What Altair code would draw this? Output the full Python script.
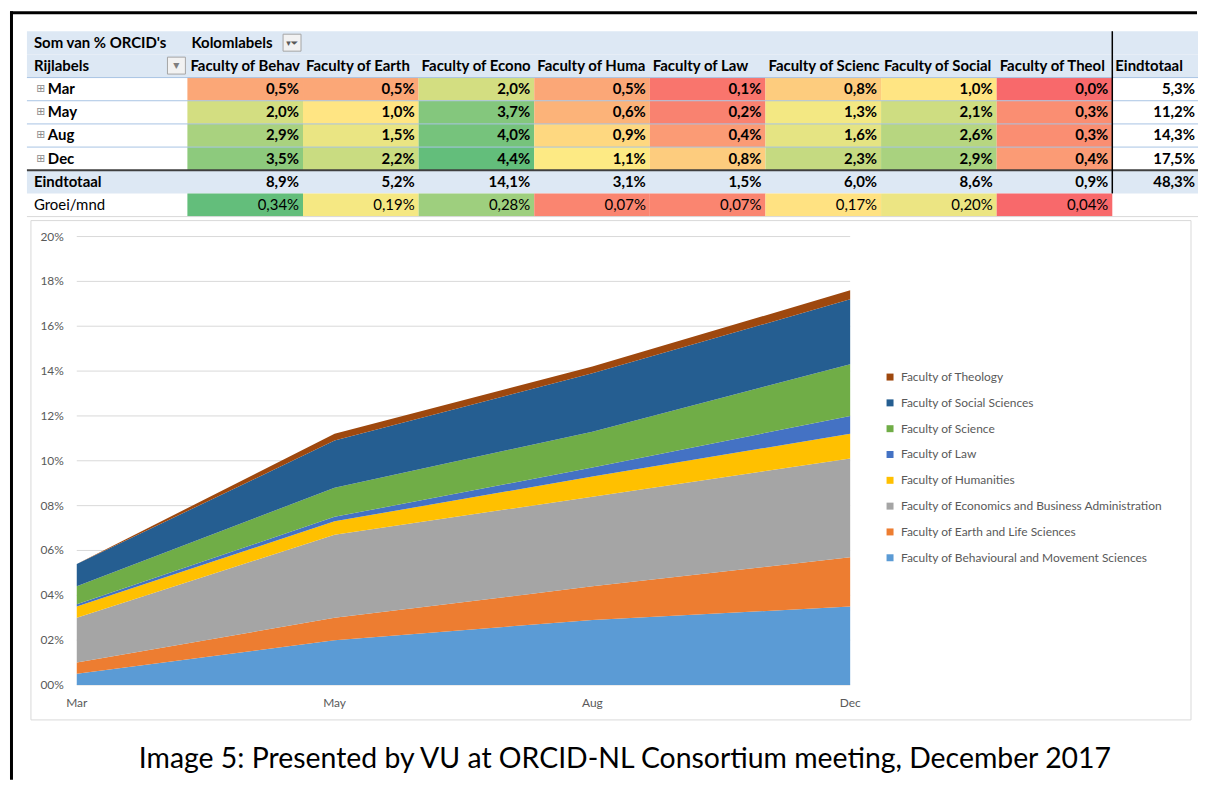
import altair as alt
import numpy as np
import pandas as pd

# ---------------- data ----------------
faculties = [
    "Faculty of Behavioural and Movement Sciences",
    "Faculty of Earth and Life Sciences",
    "Faculty of Economics and Business Administration",
    "Faculty of Humanities",
    "Faculty of Law",
    "Faculty of Science",
    "Faculty of Social Sciences",
    "Faculty of Theology",
]
months = ["Mar", "May", "Aug", "Dec"]
pct_mar = [0.5, 0.5, 2.0, 0.5, 0.1, 0.8, 1.0, 0.0]
pct_may = [2.0, 1.0, 3.7, 0.6, 0.2, 1.3, 2.1, 0.3]
pct_aug = [2.9, 1.5, 4.0, 0.9, 0.4, 1.6, 2.6, 0.3]
pct_dec = [3.5, 2.2, 4.4, 1.1, 0.8, 2.3, 2.9, 0.4]
month_totals = [5.3, 11.2, 14.3, 17.5]
faculty_totals = [8.9, 5.2, 14.1, 3.1, 1.5, 6.0, 8.6, 0.9]
grand_total = 48.3
growth_per_month = [0.34, 0.19, 0.28, 0.07, 0.07, 0.17, 0.20, 0.04]
y_ticks = [0, 2, 4, 6, 8, 10, 12, 14, 16, 18, 20]
y_tick_labels = ["00%", "02%", "04%", "06%", "08%", "10%", "12%", "14%", "16%", "18%", "20%"]
area_colors = ["#5B9BD5", "#ED7D31", "#A5A5A5", "#FFC000", "#4472C4", "#70AD47", "#255E91", "#9E480E"]
row_keys = ["Som van % ORCID's", "Rijlabels"] + months + ["Eindtotaal", "Groei/mnd"]
total_col = "Eindtotaal"
caption = "Image 5: Presented by VU at ORCID-NL Consortium meeting, December 2017"

# ---------------- layout (px) ----------------
W, H = 1191, 771
TABLE_H = 206
T_TOP = 20
T_LEFT, LAB_END, COL_W, T_RIGHT = 17, 178, 116, 1192
ROW_H = (TABLE_H - T_TOP) / len(row_keys)
B_H = H - TABLE_H
PLOT_X = [67, 843]
PLOT_Y = [676 - TABLE_H, 226 - TABLE_H]
FONT = "Lato"
FS = 15

series = [pct_mar, pct_may, pct_aug, pct_dec]
cols = faculties + [total_col]
cells = pd.DataFrame([{"fac": f, "row": m, "v": v}
                      for m, arr in zip(months, series) for f, v in zip(faculties, arr)])
coltot = pd.DataFrame({"fac": faculties, "row": "Eindtotaal", "v": faculty_totals})
grow = pd.DataFrame({"fac": faculties, "row": "Groei/mnd", "g": growth_per_month})
rowtot = pd.DataFrame({"fac": total_col, "row": months + ["Eindtotaal"],
                       "v": month_totals + [grand_total]})
hdr = pd.DataFrame({"fac": cols, "row": "Rijlabels"})

allv = np.array(series).ravel()
heat_scale = alt.Scale(domain=[float(allv.min()), float(np.median(allv)), float(allv.max())],
                       range=["#F8696B", "#FFEB84", "#63BE7B"], interpolate="rgb")
g = np.array(growth_per_month)
grow_scale = alt.Scale(domain=[float(g.min()), float(np.median(g)), float(g.max())],
                       range=["#F8696B", "#FFEB84", "#63BE7B"], interpolate="rgb")

Y_ROWS = alt.Scale(type="band", domain=row_keys, range=[T_TOP, TABLE_H],
                   paddingInner=0, paddingOuter=0)
X_COL = alt.Scale(type="band", domain=cols, range=[LAB_END, LAB_END + COL_W * len(cols)],
                  paddingInner=0, paddingOuter=0)

fmt1 = "replace(format(datum.v, '.1f'), '.', ',') + '%'"
fmt2 = "replace(format(datum.g, '.2f'), '.', ',') + '%'"


def yrow(**kw):
    return alt.Y("row:N", scale=Y_ROWS, axis=None, **kw)


def xcol(**kw):
    return alt.X("fac:N", scale=X_COL, axis=None, **kw)


txt = dict(baseline="middle", fontSize=FS, color="black", font=FONT)
one = pd.DataFrame({"k": [0]})
blue_rows = pd.DataFrame({"row": [row_keys[0], row_keys[1], "Eindtotaal"]})

# ---------------- table: backgrounds & rules ----------------
bg = alt.Chart(blue_rows).mark_rect(color="#DDE8F4").encode(
    x=alt.value(T_LEFT), x2=alt.value(T_RIGHT), y=yrow())
sep_light = alt.Chart(pd.DataFrame({"row": months})).mark_rule(color="#A9C4E4", strokeWidth=1).encode(
    x=alt.value(T_LEFT), x2=alt.value(T_RIGHT), y=yrow(bandPosition=0))
sep_dark = alt.Chart(pd.DataFrame({"row": ["Eindtotaal"]})).mark_rule(color="#3F3F3F", strokeWidth=2).encode(
    x=alt.value(T_LEFT), x2=alt.value(T_RIGHT), y=yrow(bandPosition=0))
sep_bottom = alt.Chart(pd.DataFrame({"row": ["Groei/mnd"]})).mark_rule(color="#D9D9D9", strokeWidth=1).encode(
    x=alt.value(T_LEFT), x2=alt.value(T_RIGHT), y=yrow(bandPosition=1))
vline = alt.Chart(pd.DataFrame({"fac": [total_col]})).mark_rule(color="black", strokeWidth=1.5).encode(
    x=xcol(bandPosition=0), y=alt.value(T_TOP), y2=alt.value(T_TOP + ROW_H * 7))

# ---------------- table: row labels ----------------
rl_bold = alt.Chart(blue_rows).mark_text(align="left", fontWeight="bold", **txt).encode(
    x=alt.value(24), y=yrow(), text="row:N")
rl_months = alt.Chart(pd.DataFrame({"row": months})).mark_text(
    align="left", fontWeight="bold", **txt).encode(x=alt.value(38), y=yrow(), text="row:N")
rl_icons = alt.Chart(pd.DataFrame({"row": months})).mark_text(
    align="center", baseline="middle", fontSize=11, color="#8C8C8C", font="DejaVu Sans").encode(
    x=alt.value(31), y=yrow(), text=alt.value("⊞"))
rl_growth = alt.Chart(pd.DataFrame({"row": ["Groei/mnd"]})).mark_text(
    align="left", fontWeight="normal", **txt).encode(x=alt.value(24), y=yrow(), text="row:N")
drop_box = alt.Chart(one).mark_rect(fill="#F2F2F2", stroke="#A6A6A6", strokeWidth=1).encode(
    x=alt.value(158), x2=alt.value(176), y=alt.value(46), y2=alt.value(63))
drop_glyph = alt.Chart(one).mark_text(fontSize=8, color="#7F7F7F", font="DejaVu Sans").encode(
    x=alt.value(167), y=alt.value(55), text=alt.value("▼"))
filt_box = alt.Chart(one).mark_rect(fill="#F2F2F2", stroke="#A6A6A6", strokeWidth=1).encode(
    x=alt.value(274), x2=alt.value(292), y=alt.value(23), y2=alt.value(40))
filt_glyph = alt.Chart(one).mark_text(fontSize=9, color="#595959", font="DejaVu Sans").encode(
    x=alt.value(283), y=alt.value(32), text=alt.value("▾⏷"))

# ---------------- table: value cells ----------------
heat = alt.Chart(cells).mark_rect().encode(
    x=xcol(), y=yrow(), color=alt.Color("v:Q", scale=heat_scale, legend=None))
heat_g = alt.Chart(grow).mark_rect().encode(
    x=xcol(), y=yrow(), color=alt.Color("g:Q", scale=grow_scale, legend=None))
hdr_text = alt.Chart(hdr).mark_text(align="left", fontWeight="bold", limit=113, ellipsis="\u200b",
                                    dx=3, **txt).encode(x=xcol(bandPosition=0), y=yrow(), text="fac:N")
kol_text = alt.Chart(pd.DataFrame({"fac": [faculties[0]], "row": [row_keys[0]], "t": ["Kolomlabels"]})).mark_text(
    align="left", fontWeight="bold", dx=4, **txt).encode(x=xcol(bandPosition=0), y=yrow(), text="t:N")
val_text = alt.Chart(cells).transform_calculate(lab=fmt1).mark_text(
    align="right", fontWeight="bold", dx=-4, **txt).encode(x=xcol(bandPosition=1), y=yrow(), text="lab:N")
ct_text = alt.Chart(coltot).transform_calculate(lab=fmt1).mark_text(
    align="right", fontWeight="bold", dx=-4, **txt).encode(x=xcol(bandPosition=1), y=yrow(), text="lab:N")
g_text = alt.Chart(grow).transform_calculate(lab=fmt2).mark_text(
    align="right", fontWeight="normal", dx=-4, **txt).encode(x=xcol(bandPosition=1), y=yrow(), text="lab:N")
# the total column is narrower than a faculty column: anchor at its left edge
tot_text = alt.Chart(rowtot).transform_calculate(lab=fmt1).mark_text(
    align="right", fontWeight="bold", dx=T_RIGHT - 3 - (LAB_END + COL_W * len(faculties)), **txt).encode(
    x=xcol(bandPosition=0), y=yrow(), text="lab:N")

# picture frame
frame_top = alt.Chart(one).mark_rule(color="black", strokeWidth=3).encode(
    x=alt.value(0), x2=alt.value(W), y=alt.value(1.5))
frame_left = alt.Chart(one).mark_rule(color="black", strokeWidth=3).encode(
    x=alt.value(1.5), y=alt.value(0), y2=alt.value(H))

table = alt.layer(
    bg, heat, heat_g, sep_light, sep_dark, sep_bottom, vline,
    hdr_text, kol_text, val_text, ct_text, g_text, tot_text,
    rl_bold, rl_months, rl_icons, rl_growth,
    drop_box, drop_glyph, filt_box, filt_glyph, frame_top, frame_left,
).resolve_scale(color="independent").properties(width=W, height=TABLE_H)

# ---------------- stacked area chart ----------------
area_df = pd.DataFrame([{"mi": i, "month": m, "fac": f, "idx": j, "v": arr[j]}
                        for i, (m, arr) in enumerate(zip(months, series))
                        for j, f in enumerate(faculties)])
X_M = alt.Scale(domain=[0, len(months) - 1], range=PLOT_X, nice=False, zero=False)
Y_P = alt.Scale(domain=[y_ticks[0], y_ticks[-1]], range=PLOT_Y, nice=False, zero=True)

tick_df = pd.DataFrame({"t": y_ticks, "lab": y_tick_labels, "x0": 0, "x1": len(months) - 1})
gridlines = alt.Chart(tick_df).mark_rule(color="#D9D9D9", strokeWidth=1).encode(
    y=alt.Y("t:Q", scale=Y_P, axis=None),
    x=alt.X("x0:Q", scale=X_M, axis=None), x2="x1:Q")
ylabels = alt.Chart(tick_df).mark_text(align="right", baseline="middle", dx=-13, fontSize=12,
                                       color="#595959", font=FONT).encode(
    y=alt.Y("t:Q", scale=Y_P, axis=None), x=alt.X("x0:Q", scale=X_M, axis=None), text="lab:N")
xlab_df = pd.DataFrame({"mi": list(range(len(months))), "month": months, "y0": 0})
xlabels = alt.Chart(xlab_df).mark_text(align="center", baseline="middle", dy=18, fontSize=12,
                                       color="#595959", font=FONT).encode(
    x=alt.X("mi:Q", scale=X_M, axis=None), y=alt.Y("y0:Q", scale=Y_P, axis=None), text="month:N")
areas = alt.Chart(area_df).mark_area(opacity=1, interpolate="linear").encode(
    x=alt.X("mi:Q", scale=X_M, axis=None),
    y=alt.Y("v:Q", stack="zero", scale=Y_P, axis=None),
    color=alt.Color("fac:N", scale=alt.Scale(domain=faculties[::-1], range=area_colors[::-1]),
                    legend=alt.Legend(title=None, orient="none", legendX=877, legendY=361,
                                      symbolType="square", symbolSize=49, symbolStrokeWidth=0,
                                      symbolOpacity=1, labelFontSize=12, labelColor="#595959",
                                      labelFont=FONT, labelLimit=500, rowPadding=13.9,
                                      labelOffset=5, padding=0)),
    order=alt.Order("idx:Q", sort="ascending"))
border = alt.Chart(one).mark_rect(fillOpacity=0, stroke="#D9D9D9", strokeWidth=1).encode(
    x=alt.value(21), x2=alt.value(1185), y=alt.value(210 - TABLE_H), y2=alt.value(711 - TABLE_H))
cap = alt.Chart(pd.DataFrame({"c": [caption]})).mark_text(
    fontSize=28.5, align="center", baseline="middle", color="black", font=FONT).encode(
    x=alt.value(617), y=alt.value(750 - TABLE_H), text="c:N")

area_chart = alt.layer(border, gridlines, areas, ylabels, xlabels, cap).properties(width=W, height=B_H)

chart = alt.vconcat(table, area_chart, spacing=0, bounds="flush").properties(
    padding=0, background="white"
).configure(font=FONT).configure_view(stroke=None)

chart.save("out.html", embed_options={"renderer": "svg", "actions": False})
